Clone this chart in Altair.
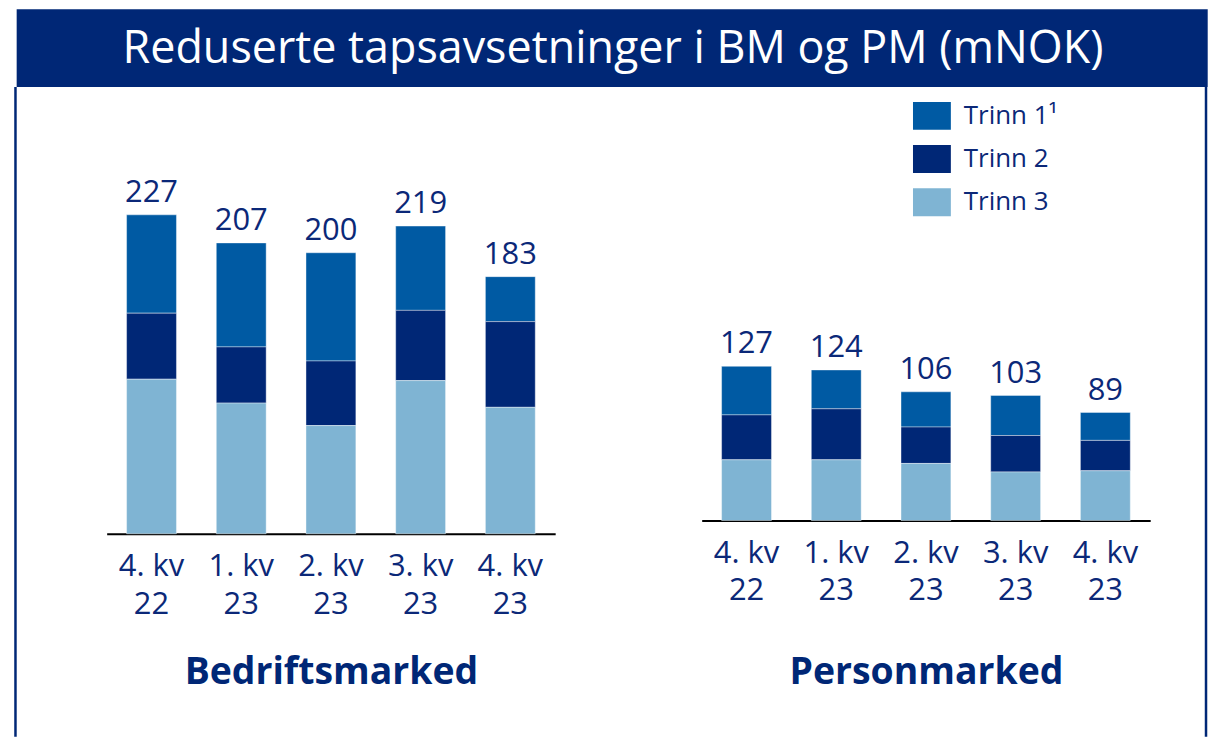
import altair as alt
import pandas as pd

# ---------------- data ----------------
TITLE = "Reduserte tapsavsetninger i BM og PM (mNOK)"
quarters = ["4. kv 22", "1. kv 23", "2. kv 23", "3. kv 23", "4. kv 23"]
series = ["Trinn 1\u00b9", "Trinn 2", "Trinn 3"]
colors = ["#005AA3", "#002776", "#7FB4D3"]
stack_rank = [3, 2, 1]  # Trinn 3 at the bottom

panel_titles = ["Bedriftsmarked", "Personmarked"]

bm_trinn1 = [70, 74, 77, 60, 32]
bm_trinn2 = [47, 40, 46, 50, 61]
bm_trinn3 = [110, 93, 77, 109, 90]
bm_totals = [227, 207, 200, 219, 183]

pm_trinn1 = [40, 32, 29, 33, 23]
pm_trinn2 = [37, 42, 30, 30, 25]
pm_trinn3 = [50, 50, 47, 40, 41]
pm_totals = [127, 124, 106, 103, 89]

NAVY = "#002776"
TEXT = "#0B2878"
FONT = "Open Sans"


def long_df(t1, t2, t3):
    rows = []
    for s, r, vals in zip(series, stack_rank, [t1, t2, t3]):
        for q, v in zip(quarters, vals):
            rows.append({"quarter": q, "trinn": s, "rank": r, "value": v})
    return pd.DataFrame(rows)


bm_df = long_df(bm_trinn1, bm_trinn2, bm_trinn3)
pm_df = long_df(pm_trinn1, pm_trinn2, pm_trinn3)
bm_tot = pd.DataFrame({"quarter": quarters, "value": bm_totals})
pm_tot = pd.DataFrame({"quarter": quarters, "value": pm_totals})

W, H = 1206, 730

color = alt.Color(
    "trinn:N",
    scale=alt.Scale(domain=series, range=colors),
    legend=alt.Legend(
        orient="none", legendX=908, legendY=88, title=None,
        symbolType="M-1,-0.737H1V0.737H-1Z", symbolSize=1444,
        symbolStrokeWidth=0, symbolOpacity=1,
        labelFont=FONT, labelFontSize=26, labelColor=TEXT,
        labelOffset=13, rowPadding=9.3, padding=0,
    ),
)

label_expr = ("[substring(datum.label, 0, lastindexof(datum.label, ' ')), "
              "substring(datum.label, lastindexof(datum.label, ' ') + 1)]")


def panel(df, tot, xrange, ymax, yrange, offset, title, title_y):
    x = alt.X(
        "quarter:N", sort=quarters,
        scale=alt.Scale(range=xrange, paddingInner=0.444, paddingOuter=0.222),
        axis=alt.Axis(
            orient="bottom", offset=offset, title=title, titleY=title_y,
            titleBaseline="alphabetic", titleFont=FONT, titleFontSize=37.5,
            titleFontWeight="bold", titleColor=NAVY,
            labelExpr=label_expr, labelAngle=0, labelFont=FONT,
            labelFontSize=31, labelColor=TEXT, labelBaseline="alphabetic",
            labelPadding=42, labelLineHeight=37.5, ticks=False,
            domainColor="#000000", domainWidth=2, grid=False,
        ),
    )
    yscale = alt.Scale(domain=[0, ymax], range=yrange, nice=False, zero=True)
    bars = alt.Chart(df).mark_bar(
        stroke="white", strokeWidth=0.8, strokeOpacity=0.5
    ).encode(
        x=x,
        y=alt.Y("value:Q", stack="zero", scale=yscale, axis=None),
        color=color,
        order=alt.Order("rank:Q", sort="ascending"),
    )
    labels = alt.Chart(tot).mark_text(
        font=FONT, fontSize=31, color=TEXT, baseline="alphabetic", dy=-13
    ).encode(
        x=x,
        y=alt.Y("value:Q", scale=yscale, axis=None),
        text="value:Q",
    )
    return alt.layer(bars, labels)


left = panel(bm_df, bm_tot, [99, 549], 227, [526.3, 206.3], 526.3 - H,
             panel_titles[0], 150.7)
right = panel(pm_df, pm_tot, [696, 1146], 127, [513, 358.3], 513 - H,
              panel_titles[1], 164)

head_df = pd.DataFrame({"t": [TITLE]})
header = alt.Chart(head_df).mark_rect(color=NAVY).encode(
    x=alt.value(8.7), x2=alt.value(1203.7), y=alt.value(0), y2=alt.value(78)
)
title_text = alt.Chart(head_df).mark_text(
    font=FONT, fontSize=45, fontWeight="normal", color="white",
    align="center", baseline="alphabetic"
).encode(x=alt.value(607), y=alt.value(53.5), text="t:N")
border_l = alt.Chart(head_df).mark_rule(color=NAVY, strokeWidth=2.5).encode(
    x=alt.value(7.5), y=alt.value(78), y2=alt.value(H)
)
border_r = alt.Chart(head_df).mark_rule(color=NAVY, strokeWidth=2.5).encode(
    x=alt.value(1202), y=alt.value(78), y2=alt.value(H)
)

chart = alt.layer(
    header, title_text, border_l, border_r, left, right
).resolve_scale(
    x="independent", y="independent"
).resolve_axis(
    x="independent", y="independent"
).properties(
    width=W, height=H, padding=0, background="white"
).configure_view(stroke=None)

chart.save("out.html", embed_options={"renderer": "svg", "actions": False})
